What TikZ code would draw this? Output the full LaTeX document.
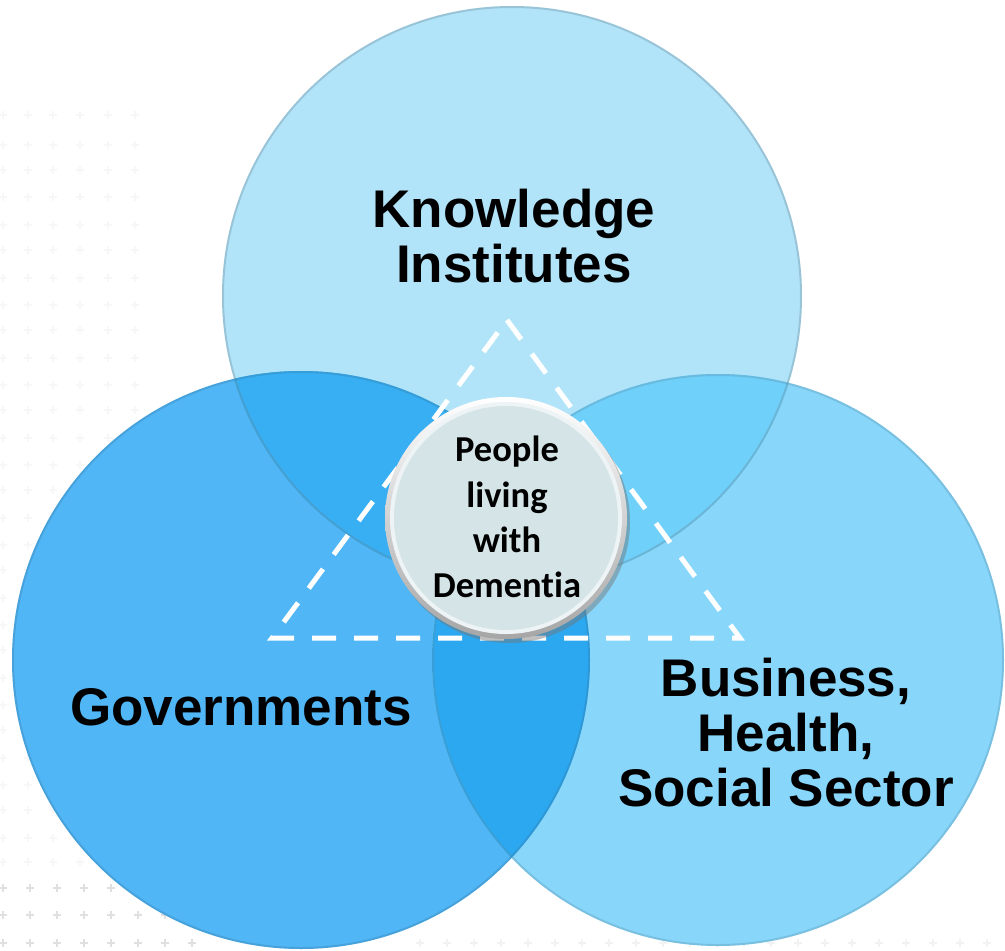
\documentclass[tikz,border=0pt]{standalone}
\usepackage{fontspec}
\setmainfont{Liberation Sans}
\newfontfamily\carlitofont[RawFeature={-liga;-clig;-dlig;-calt}]{Carlito}
\definecolor{topc}{HTML}{B2E4F9}
\definecolor{leftc}{HTML}{50B6F5}
\definecolor{rightc}{HTML}{88D7FB}
\definecolor{tlc}{HTML}{38AFF2}
\definecolor{trc}{HTML}{6FD0FA}
\definecolor{lrc}{HTML}{2CA8F0}
\definecolor{tlrc}{HTML}{2AA6EE}
\definecolor{hubc}{HTML}{D5E4E7}
\tikzset{
  bigtext/.style={font=\bfseries\fontsize{53}{55}\selectfont, align=center, inner sep=0pt, text=black},
  hubtext/.style={font=\carlitofont\bfseries\fontsize{36.5}{45.3}\selectfont, align=center, inner sep=0pt, text=black},
  rim/.style={line width=2pt, draw opacity=0.3},
  tri/.style={draw=white, line width=5pt, dash pattern=on 24pt off 18pt, line join=miter},
  plusmark/.style={line width=1.2pt}
}
\begin{document}
\begin{tikzpicture}[x=1pt,y=-1pt]
\useasboundingbox (0,0) rectangle (1005,951);
\clip (0,0) rectangle (1005,951);
% faint background pattern
\foreach \yy in {888,915,943}{
  \foreach \xx in {3,30,57,84,111,138,165,192}{
    \draw[plusmark, black!12] (\xx-4,\yy) -- (\xx+4,\yy) (\xx,\yy-4) -- (\xx,\yy+4);
  }
}
\foreach \yy in {943}{
  \foreach \xx in {420,447,474,501,528,555,582,609,636,663,690,717,744,771,798,825,852,879,906,933,960,987}{
    \draw[plusmark, black!5] (\xx-4,\yy) -- (\xx+4,\yy) (\xx,\yy-4) -- (\xx,\yy+4);
  }
}
\foreach \yy in {115,145,170,197,225,250,278,305,330,358,385,410,438,465,490,518,545,570,598,625,650,678,705,730,758,785,810,838,862}{
  \foreach \xx in {3,28,53,80,108,135}{
    \draw[plusmark, black!3] (\xx-4,\yy) -- (\xx+4,\yy) (\xx,\yy-4) -- (\xx,\yy+4);
  }
}
% circles
\coordinate (KT) at (512,296);
\coordinate (GV) at (301,660);
\coordinate (BS) at (718,660);
\fill[topc] (KT) circle[radius=290pt];
\fill[leftc] (GV) circle[radius=289pt];
\fill[rightc] (BS) circle[radius=286pt];
\begin{scope}
  \clip (KT) circle[radius=290pt];
  \fill[tlc] (GV) circle[radius=289pt];
  \fill[trc] (BS) circle[radius=286pt];
\end{scope}
\begin{scope}
  \clip (GV) circle[radius=289pt];
  \fill[lrc] (BS) circle[radius=286pt];
  \clip (KT) circle[radius=290pt];
  \fill[tlrc] (BS) circle[radius=286pt];
\end{scope}
% rims
\draw[rim, draw=black!45!topc] (KT) circle[radius=289pt];
\draw[rim, draw=black!35!leftc] (GV) circle[radius=288pt];
\draw[rim, draw=black!35!rightc] (BS) circle[radius=285pt];
% dashed triangle
\coordinate (TA) at (507,320);
\coordinate (TB) at (272,638);
\coordinate (TC) at (740,638);
\draw[tri] (TA) -- (TC) -- (TB) -- cycle;
% hub circle
\coordinate (HC) at (506,518);
\fill[black!55, opacity=0.45] ([shift={(3,4)}]HC) circle[radius=121pt];
\shade[top color=white, bottom color=black!35] (HC) circle[radius=121pt];
\fill[white!60!hubc] (HC) circle[radius=116pt];
\fill[hubc] (HC) circle[radius=112pt];
\node[hubtext] (hub) at (507,517) {People\\living\\with\\Dement\kern0pt ia};
% labels
\node[bigtext] (know) at (514,236) {Knowledge\\Institutes};
\node[bigtext, anchor=base] (gov) at (241,725) {Governments};
\node[bigtext] (bus) at (786,733) {Business,\\Health,\\Social Sector};
\end{tikzpicture}
\end{document}
